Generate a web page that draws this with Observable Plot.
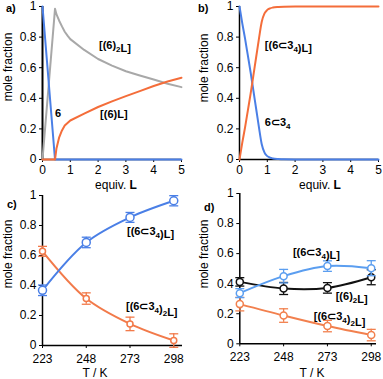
<!DOCTYPE html>
<html><head><meta charset="utf-8">
<script src="https://cdn.jsdelivr.net/npm/d3@7"></script>
<script src="https://cdn.jsdelivr.net/npm/@observablehq/plot@0.6"></script>
<style>
html,body{margin:0;padding:0;background:#fff;}
#chart{position:relative;width:383px;height:379px;overflow:hidden;font-family:"Liberation Sans",Arial,sans-serif;background:#fff;}
#chart svg{position:absolute;}
</style></head><body><div id="chart"></div>
<script>
// ---------- DATA ----------
// panel a: titration of 6 with L
const aEquiv6 = [0, 0.45, 5];
const a6 = [1, 0, 0];
const aEquiv62L = [0, 0.45, 0.5, 0.6, 0.7, 0.8, 0.9, 1, 1.5, 2, 2.5, 3, 3.5, 4, 4.5, 5];
const a62L = [0, 0.985, 0.95, 0.907, 0.87, 0.835, 0.81, 0.787, 0.716, 0.657, 0.614, 0.577, 0.549, 0.523, 0.495, 0.473];
const aEquiv6L = [0, 0.45, 0.5, 0.6, 0.7, 0.8, 1, 1.5, 2, 2.5, 3, 3.5, 4, 4.5, 5];
const a6L = [0, 0, 0.07, 0.145, 0.19, 0.222, 0.255, 0.30, 0.343, 0.38, 0.414, 0.447, 0.48, 0.51, 0.534];
// panel b: titration of 6⊂3_4 with L
const bEquiv = [0, 0.1, 0.2, 0.3, 0.4, 0.5, 0.6, 0.7, 0.8, 0.9, 1.0, 1.1, 1.2, 1.4, 1.6, 2, 3, 4, 5];
const bHost = [1, 0.89, 0.79, 0.68, 0.57, 0.45, 0.33, 0.21, 0.10, 0.045, 0.022, 0.012, 0.007, 0.003, 0.001, 0, 0, 0, 0];
const bHostL = [0, 0.11, 0.21, 0.32, 0.43, 0.55, 0.67, 0.79, 0.90, 0.955, 0.978, 0.988, 0.993, 0.997, 0.999, 1, 1, 1, 1];
// panels c, d: temperature dependence
const tempsK = [223, 248, 273, 298];
const cHostL = [0.368, 0.687, 0.854, 0.965];
const cHostLErr = [0.035, 0.035, 0.033, 0.034];
const cHost2L = [0.628, 0.313, 0.144, 0.033];
const cHost2LErr = [0.033, 0.038, 0.045, 0.045];
const dHostL = [0.337, 0.45, 0.517, 0.503];
const dHostLErr = [0.03, 0.045, 0.035, 0.05];
const d62L = [0.412, 0.368, 0.372, 0.443];
const d62LErr = [0.028, 0.04, 0.035, 0.05];
const dHost2L = [0.264, 0.188, 0.118, 0.058];
const dHost2LErr = [0.045, 0.045, 0.038, 0.038];
// ticks
const yTicks = [0, 0.2, 0.4, 0.6, 0.8, 1];
const equivTicks = [0, 1, 2, 3, 4, 5];
const tempTicks = [223, 248, 273, 298];

// ---------- HELPERS ----------
const FONT = '"Liberation Sans", Arial, sans-serif';
const BLUE = "#4a7fe6", ORANGE = "#f46d3a", GRAY = "#a8a8a8";
const BLUE_D = "#5b9ef0", ORANGE_C = "#f27a4a", ORANGE_D = "#f2804e";
const zip = (xs, ys) => xs.map((x, i) => ({x, y: ys[i]}));
const zipErr = (xs, ys, es) => xs.map((x, i) => ({x, y: ys[i], lo: ys[i] - es[i], hi: ys[i] + es[i]}));
const capSymbol = {draw(ctx) { ctx.moveTo(-4.5, 0); ctx.lineTo(4.5, 0); }};

function appendRich(textSel, str) {
  // "_x" -> subscript x
  const parts = str.split(/_(\w)/);
  parts.forEach((p, i) => {
    if (!p) return;
    if (i % 2 === 1) {
      textSel.append("tspan").attr("font-size", 8).attr("dy", 3).text(p);
      textSel.append("tspan").attr("dy", -3).text("");
    } else textSel.append("tspan").text(p);
  });
}

// rich, bold labels positioned through the chart scales
const seriesLabels = (items) => (index, scales) => {
  const g = d3.create("svg:g").attr("font-weight", "bold").attr("font-size", 11)
    .attr("font-family", FONT).attr("text-anchor", "start");
  for (const it of items) {
    const t = g.append("text").attr("x", scales.x(it.x)).attr("y", scales.y(it.y)).attr("dy", "0.35em");
    appendRich(t, it.text);
  }
  return g.node();
};

// panel letter, y-axis title and x-axis title (pixel layout)
const frameTexts = (o) => () => {
  const g = d3.create("svg:g").attr("font-family", FONT).attr("fill", "#000");
  g.append("text").attr("x", o.letter[0]).attr("y", o.letter[1]).attr("dy", "0.35em")
    .attr("text-anchor", "start").attr("font-size", 11).attr("font-weight", "bold").text(o.letterText);
  g.append("text").attr("transform", `translate(${o.ylab[0]},${o.ylab[1]}) rotate(-90)`)
    .attr("text-anchor", "middle").attr("dy", "0.35em").attr("font-size", 12).text("mole fraction");
  const xt = g.append("text").attr("x", o.xlab[0]).attr("y", o.xlab[1]).attr("text-anchor", "middle").attr("font-size", 12);
  o.xlabParts.forEach(([s, b]) => xt.append("tspan").attr("font-weight", b ? "bold" : "normal").text(s));
  return g.node();
};

function panel(o) {
  const svg = Plot.plot({
    width: 192, height: 190,
    marginLeft: o.ml, marginRight: o.mr, marginTop: o.mt, marginBottom: o.mb,
    style: {fontFamily: FONT, fontSize: "12px", background: "transparent", overflow: "visible"},
    x: {domain: o.xDomain, label: null},
    y: {domain: [0, 1], label: null},
    marks: [
      Plot.axisY({ticks: yTicks, tickSize: 3, tickPadding: 3, tickFormat: d => String(d), label: null, fontSize: 12}),
      Plot.axisX({ticks: o.xTicks, tickSize: 3, tickPadding: o.xPad, tickFormat: d => String(d), label: null, fontSize: 12}),
      Plot.ruleY([0], {stroke: "#000", strokeWidth: 1.5}),
      Plot.ruleX([o.xDomain[0]], {stroke: "#000", strokeWidth: o.yAxisW || 1.5}),
      ...o.marks,
      seriesLabels(o.labels),
      frameTexts(o.frame)
    ]
  });
  svg.style.left = o.left + "px";
  svg.style.top = o.top + "px";
  document.getElementById("chart").appendChild(svg);
}

function errSeries(data, color, r, sw) {
  return [
    Plot.ruleX(data, {x: "x", y1: "lo", y2: "hi", stroke: color, strokeWidth: 1.3}),
    Plot.dot(data, {x: "x", y: "hi", symbol: capSymbol, stroke: color, strokeWidth: 1.3, fill: "none", r: 3}),
    Plot.dot(data, {x: "x", y: "lo", symbol: capSymbol, stroke: color, strokeWidth: 1.3, fill: "none", r: 3}),
    Plot.line(data, {x: "x", y: "y", stroke: color, strokeWidth: sw, curve: "catmull-rom"}),
    Plot.dot(data, {x: "x", y: "y", r, stroke: color, strokeWidth: 1.5, fill: "#fff"})
  ];
}

// ---------- PANEL a ----------
panel({
  left: 0, top: 0, ml: 42, mr: 11, mt: 6, mb: 31,
  xDomain: [0, 5], xTicks: equivTicks, xPad: 3, yAxisW: 2,
  marks: [
    Plot.line(zip(aEquiv62L, a62L), {x: "x", y: "y", stroke: GRAY, strokeWidth: 2}),
    Plot.line(zip(aEquiv6, a6), {x: "x", y: "y", stroke: BLUE, strokeWidth: 2}),
    Plot.line(zip(aEquiv6L, a6L), {x: "x", y: "y", stroke: ORANGE, strokeWidth: 2})
  ],
  labels: [
    {x: 2.05, y: 0.745, text: "[(6)_2L]"},
    {x: 0.47, y: 0.30, text: "6"},
    {x: 2.09, y: 0.294, text: "[(6)L]"}
  ],
  frame: {letter: [6, 8], letterText: "a)", ylab: [8, 67], xlab: [116, 188.5], xlabParts: [["equiv. ", false], ["L", true]]}
});

// ---------- PANEL b ----------
panel({
  left: 191, top: 0, ml: 48, mr: 5, mt: 6, mb: 31,
  xDomain: [0, 5], xTicks: equivTicks, xPad: 3,
  marks: [
    Plot.line(zip(bEquiv, bHost), {x: "x", y: "y", stroke: BLUE, strokeWidth: 2, curve: "monotone-x"}),
    Plot.line(zip(bEquiv, bHostL), {x: "x", y: "y", stroke: ORANGE, strokeWidth: 2, curve: "monotone-x"})
  ],
  labels: [
    {x: 0.93, y: 0.745, text: "[(6⊂3_4)L]"},
    {x: 0.93, y: 0.24, text: "6⊂3_4"}
  ],
  frame: {letter: [7, 8], letterText: "b)", ylab: [13, 68], xlab: [129, 188.5], xlabParts: [["equiv. ", false], ["L", true]]}
});

// ---------- PANEL c ----------
panel({
  left: 0, top: 189, ml: 42, mr: 10, mt: 6, mb: 34,
  xDomain: [223, 303], xTicks: tempTicks, xPad: 6,
  marks: [
    ...errSeries(zipErr(tempsK, cHost2L, cHost2LErr), ORANGE_C, 3, 2),
    ...errSeries(zipErr(tempsK, cHostL, cHostLErr), BLUE, 4, 2)
  ],
  labels: [
    {x: 271.6, y: 0.758, text: "[(6⊂3_4)L]"},
    {x: 271, y: 0.26, text: "[(6⊂3_4)_2L]"}
  ],
  frame: {letter: [7, 15], letterText: "c)", ylab: [8, 65], xlab: [95, 188], xlabParts: [["T / K", false]]}
});

// ---------- PANEL d ----------
panel({
  left: 191, top: 189, ml: 48.3, mr: 7, mt: 4, mb: 35.7,
  xDomain: [223, 301], xTicks: tempTicks, xPad: 5.5,
  marks: [
    ...errSeries(zipErr(tempsK, dHost2L, dHost2LErr), ORANGE_D, 3.5, 2),
    ...errSeries(zipErr(tempsK, d62L, d62LErr), "#111", 3.5, 2),
    ...errSeries(zipErr(tempsK, dHostL, dHostLErr), BLUE_D, 3.5, 2)
  ],
  labels: [
    {x: 253.6, y: 0.607, text: "[(6⊂3_4)L]"},
    {x: 278, y: 0.315, text: "[(6)_2L]"},
    {x: 265.5, y: 0.182, text: "[(6⊂3_4)_2L]"}
  ],
  frame: {letter: [13, 18], letterText: "d)", ylab: [13, 65], xlab: [121, 188], xlabParts: [["T / K", false]]}
});
</script></body></html>
